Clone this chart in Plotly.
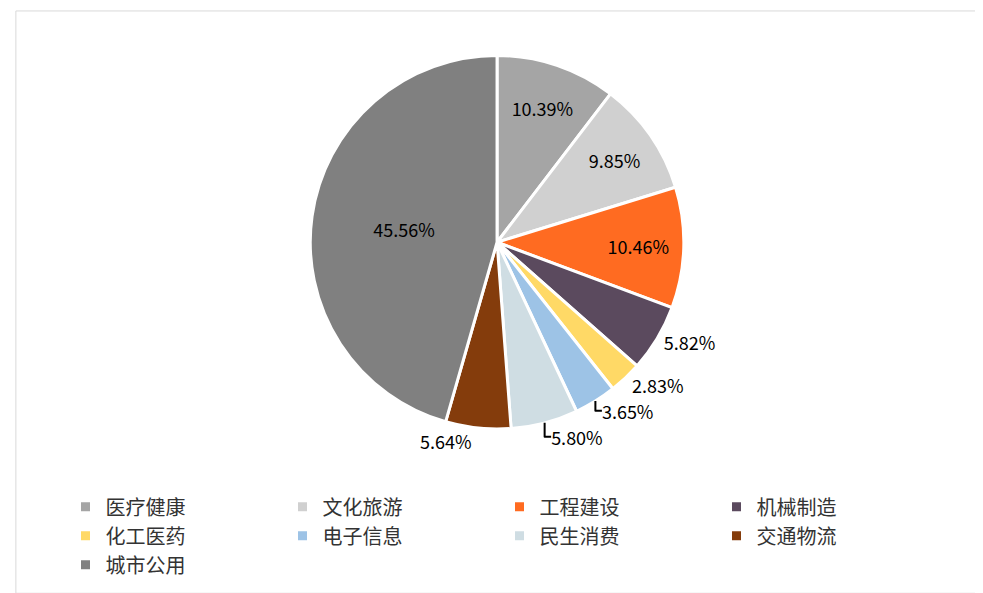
import plotly.graph_objects as go

# 行业占比
industries = ["医疗健康", "文化旅游", "工程建设", "机械制造", "化工医药", "电子信息", "民生消费", "交通物流", "城市公用"]
shares = [10.39, 9.85, 10.46, 5.82, 2.83, 3.65, 5.80, 5.64, 45.56]
colors = ["#A5A5A5", "#D0D0D0", "#FF6B21", "#5B4A5E", "#FFD966", "#9DC3E6", "#CFDDE3", "#843C0C", "#808080"]
label_pos = ["inside", "inside", "inside", "outside", "outside", "outside", "outside", "outside", "inside"]

fig = go.Figure(go.Pie(
    labels=industries,
    values=shares,
    sort=False,
    direction="clockwise",
    rotation=0,
    marker=dict(colors=colors, line=dict(color="white", width=3)),
    texttemplate="%{value:.2f}%",
    textposition=label_pos,
    insidetextorientation="horizontal",
    textfont=dict(size=18, color="black", family="Noto Sans CJK SC"),
    domain=dict(x=[0.30, 0.695], y=[0.29, 0.92]),
    hoverinfo="label+percent",
))

fig.update_layout(
    width=983, height=593,
    margin=dict(l=0, r=0, t=0, b=0),
    paper_bgcolor="white",
    font=dict(family="Noto Sans CJK SC", color="#333333"),
    legend=dict(
        orientation="h",
        x=0.5, xanchor="center",
        y=0.11, yanchor="middle",
        entrywidth=172,
        font=dict(size=20),
        itemwidth=30,
    ),
    shapes=[dict(type="rect", xref="paper", yref="paper", x0=0.008, x1=0.99, y0=0.013, y1=0.995,
                 line=dict(color="#D9D9D9", width=1))],
)

fig.write_html("out.html")
